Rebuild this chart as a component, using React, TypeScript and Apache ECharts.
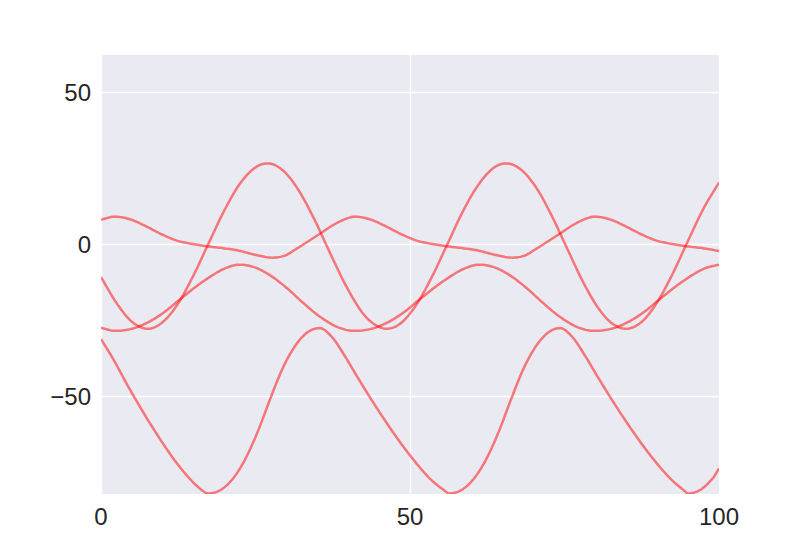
import React, { useEffect, useRef } from "react";
import * as echarts from "echarts";

// large wave around 0
const waveAX = [
  0, 2.5, 5, 7.6, 10, 12.5, 15, 17.5, 20, 22.5, 25, 27.0, 29.5, 32, 34.5, 37, 39.5,
  42, 44, 46.2, 48.5, 51, 53.5, 56, 58.5, 61, 63.5, 65.6, 68, 70.5, 73, 75.5, 78,
  80.5, 82.8, 85, 87.5, 90, 92.5, 95, 97.5, 100,
];
const waveAY = [
  -10.8, -19.3, -25.5, -27.8, -25.6, -19.4, -10.1, 0.7, 11.3, 20.0, 25.3, 26.6, 24.2,
  17.7, 8.3, -2.6, -13.1, -21.7, -26.0, -27.8, -26.0, -20.0, -10.9, -0.2, 10.6, 19.4,
  25.1, 26.6, 24.5, 18.4, 9.1, -1.7, -12.4, -21.1, -26.2, -27.8, -25.5, -19.1, -9.7,
  1.2, 11.8, 20.3,
];

// small wave near 0
const waveBX = [
  0, 2.3, 3.8, 5.3, 7.3, 9.8, 12.3, 14.8, 17.3, 19.8, 22.3, 24.8, 27.8, 29.8, 31.3,
  32.8, 35.3, 37.8, 39.8, 41.1, 42.6, 44.1, 46.1, 48.6, 51.1, 53.6, 56.1, 58.6, 61.1,
  63.6, 66.6, 68.6, 70.1, 71.6, 74.1, 76.6, 78.6, 79.9, 81.4, 82.9, 84.9, 87.4, 89.9,
  92.4, 94.9, 97.4, 100,
];
const waveBY = [
  8.1, 9.1, 8.7, 7.8, 5.9, 3.3, 1.2, 0.1, -0.7, -1.3, -2.1, -3.4, -4.4, -3.7, -1.9,
  0.0, 3.3, 6.6, 8.5, 9.1, 8.7, 7.8, 5.9, 3.3, 1.2, 0.1, -0.7, -1.3, -2.1, -3.4, -4.4,
  -3.7, -1.9, 0.0, 3.3, 6.6, 8.5, 9.1, 8.7, 7.8, 5.9, 3.3, 1.2, 0.1, -0.7, -1.3, -2.2,
];

// medium wave around -17
const waveCX = [
  0, 2.3, 5, 7.5, 10, 12.5, 15, 17.5, 20, 22.5, 25, 27.5, 30, 32.5, 35, 37.5, 39.5,
  41.1, 43.8, 46.3, 48.8, 51.3, 53.8, 56.3, 58.8, 61.3, 63.8, 66.3, 68.8, 71.3, 73.8,
  76.3, 78.3, 79.9, 82.6, 85.1, 87.6, 90.1, 92.6, 95.1, 97.6, 100,
];
const waveCY = [
  -27.5, -28.5, -27.8, -25.8, -22.7, -18.6, -14.5, -10.9, -8.0, -6.7, -7.7, -10.4,
  -14.3, -18.9, -23.2, -26.5, -28.1, -28.5, -27.8, -25.8, -22.7, -18.6, -14.5, -10.9,
  -8.0, -6.7, -7.7, -10.4, -14.3, -18.9, -23.2, -26.5, -28.1, -28.5, -27.8, -25.8,
  -22.7, -18.6, -14.5, -10.9, -8.0, -6.7,
];

// low wave around -55
const waveDX = [
  0, 2.1, 4.1, 6.1, 8.1, 10.1, 12.1, 14.1, 16.1, 17.4, 19.4, 21.4, 23.4, 25.4, 27.4,
  29.4, 31.4, 33.4, 35.4, 37.4, 39.4, 41.4, 43.4, 45.4, 47.4, 49.4, 51.4, 53.4, 55.4,
  56.4, 58.4, 60.4, 62.4, 64.4, 66.4, 68.4, 70.4, 72.4, 74.3, 76.3, 78.3, 80.3, 82.3,
  84.3, 86.3, 88.3, 90.3, 92.3, 94.3, 95.0, 97, 99, 100,
];
const waveDY = [
  -31.2, -38.2, -45.7, -52.8, -59.5, -65.8, -71.6, -76.6, -80.6, -82.0, -80.8, -77.0,
  -70.5, -61.5, -50.8, -40.8, -33.5, -29.0, -27.6, -30.6, -36.6, -43.4, -50.0, -56.3,
  -62.3, -67.9, -73.0, -77.5, -80.8, -82.0, -80.8, -77.0, -70.5, -61.5, -50.8, -40.8,
  -33.5, -29.0, -27.6, -30.6, -36.6, -43.4, -50.0, -56.3, -62.3, -67.9, -73.0, -77.5,
  -81.0, -82.0, -80.8, -77.0, -73.8,
];

const seriesList = [
  [waveAX, waveAY],
  [waveBX, waveBY],
  [waveCX, waveCY],
  [waveDX, waveDY],
];
const yTicks = [-50, 0, 50];

// tangents for a smooth cubic Hermite curve through the read points
function tangents(xs: number[], ys: number[]) {
  const n = xs.length;
  const m: number[] = new Array(n).fill(0);
  for (let i = 0; i < n; i++) {
    if (i === 0) m[i] = (ys[1] - ys[0]) / (xs[1] - xs[0]);
    else if (i === n - 1) m[i] = (ys[n - 1] - ys[n - 2]) / (xs[n - 1] - xs[n - 2]);
    else {
      const d0 = ys[i] - ys[i - 1];
      const d1 = ys[i + 1] - ys[i];
      m[i] = d0 * d1 <= 0 ? 0 : (ys[i + 1] - ys[i - 1]) / (xs[i + 1] - xs[i - 1]);
    }
  }
  return m;
}

export default function App() {
  const ref = useRef<HTMLDivElement>(null);

  useEffect(() => {
    if (!ref.current) return;
    const chart = echarts.init(ref.current, undefined, { renderer: "svg" });
    const labelStyle = {
      color: "#262626",
      fontSize: 24,
      fontFamily: "Liberation Sans, Arial, sans-serif",
    };
    chart.setOption({
      animation: false,
      backgroundColor: "#ffffff",
      grid: {
        left: 101,
        right: 81,
        top: 55,
        bottom: 56,
        show: true,
        backgroundColor: "#EAEAF2",
        borderWidth: 0,
      },
      xAxis: {
        type: "value",
        min: 0,
        max: 100,
        interval: 50,
        axisLine: { show: false },
        axisTick: { show: false },
        axisLabel: { ...labelStyle, margin: 10 },
        splitLine: { show: true, lineStyle: { color: "#ffffff", width: 1.3 } },
      },
      yAxis: {
        type: "value",
        min: -82.2,
        max: 62.3,
        axisLine: { show: false },
        axisTick: { show: false, customValues: yTicks },
        axisLabel: {
          ...labelStyle,
          margin: 10,
          customValues: yTicks,
          formatter: (v: number) => String(v).replace("-", "\u2212"),
        },
        splitLine: { show: true, lineStyle: { color: "#ffffff", width: 1.3 } },
      },
      series: seriesList.map(([xs, ys], i) => ({
        name: "wave" + i,
        type: "custom",
        clip: true,
        data: [[xs[0], ys[0]]],
        renderItem: (_params: any, api: any) => {
          const m = tangents(xs, ys);
          const pts: number[][] = [];
          const steps = 10;
          for (let k = 0; k < xs.length - 1; k++) {
            const x0 = xs[k], x1 = xs[k + 1], y0 = ys[k], y1 = ys[k + 1];
            const h = x1 - x0;
            for (let s = 0; s < steps; s++) {
              const t = s / steps;
              const t2 = t * t, t3 = t2 * t;
              const y =
                (2 * t3 - 3 * t2 + 1) * y0 +
                (t3 - 2 * t2 + t) * h * m[k] +
                (-2 * t3 + 3 * t2) * y1 +
                (t3 - t2) * h * m[k + 1];
              pts.push(api.coord([x0 + h * t, y]));
            }
          }
          pts.push(api.coord([xs[xs.length - 1], ys[ys.length - 1]]));
          return {
            type: "polyline",
            shape: { points: pts },
            style: { stroke: "rgba(255,0,0,0.5)", lineWidth: 2.5, fill: null },
          };
        },
      })),
    });
    return () => chart.dispose();
  }, []);

  return (
    <div
      ref={ref}
      style={{ position: "fixed", left: 0, top: 0, width: 800, height: 550 }}
    />
  );
}
